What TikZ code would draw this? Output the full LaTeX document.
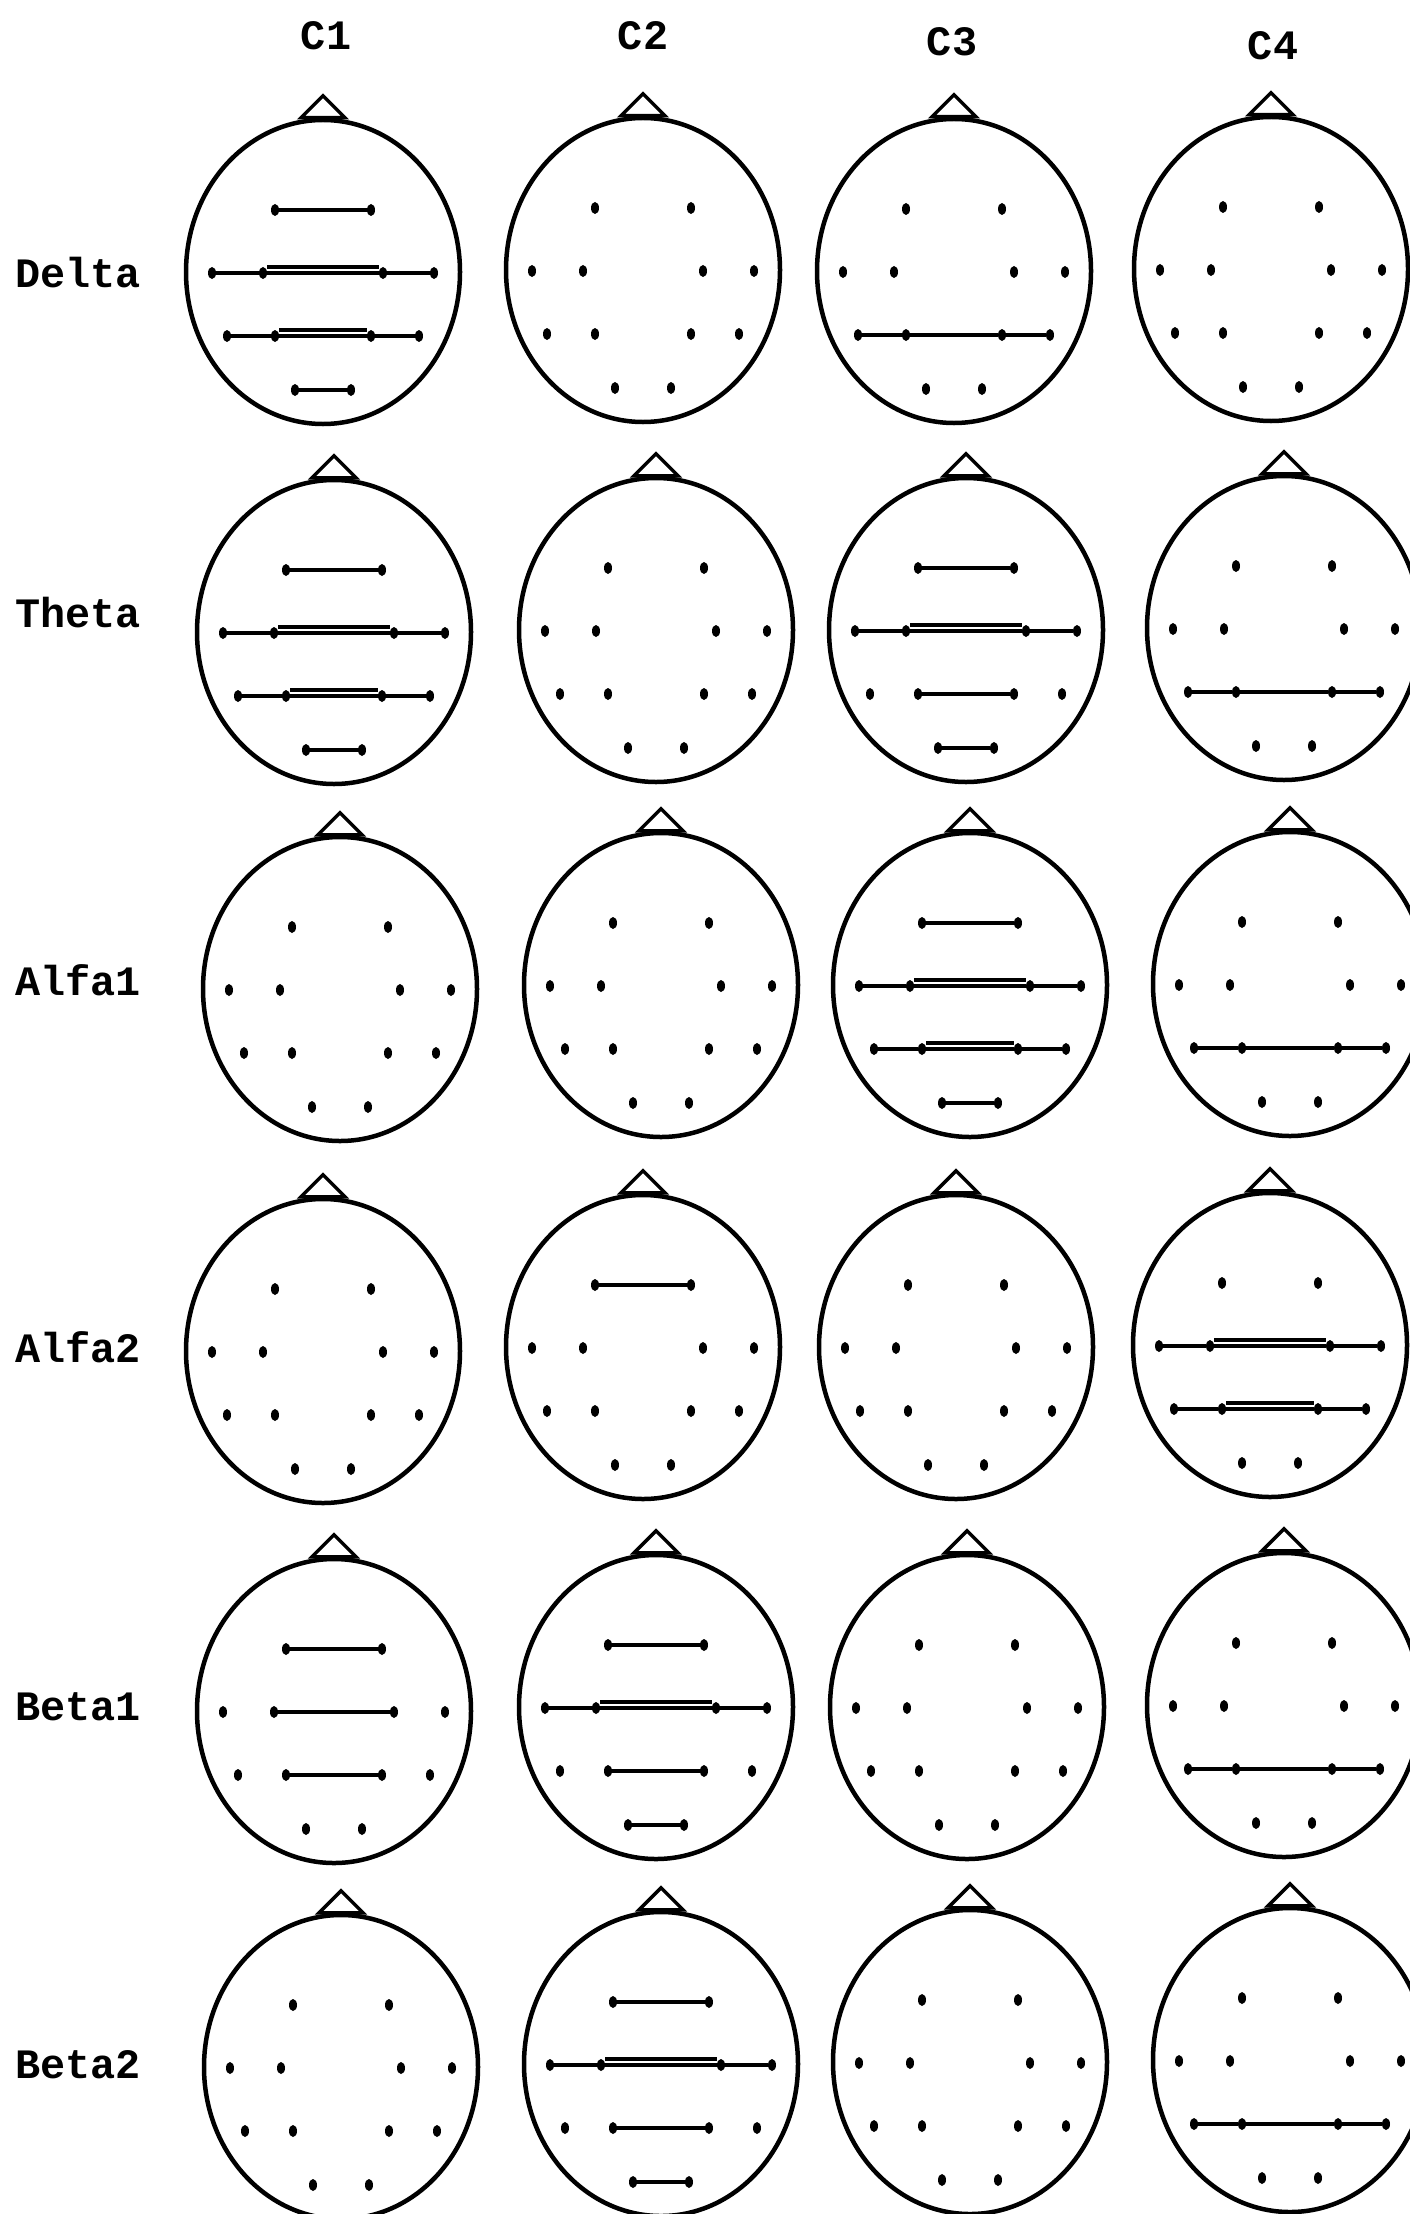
\documentclass[tikz,border=0pt]{standalone}
\usepackage{fontspec}
\newfontfamily\labfont{Liberation Mono}
\usetikzlibrary{shapes.geometric}

% one head: outline, nose and the twelve electrodes
\newcommand{\eeghead}[3]{%
    \node[head] (#1) at (#2,#3) {};
    \draw[nose] ([xshift=-22bp]#1.north) -- ++(22,-22) -- ++(22,22) -- cycle;
    \node[elec] (#1-F3) at ([shift={(-48,-62)}]#1.center) {};
    \node[elec] (#1-F4) at ([shift={(48,-62)}]#1.center) {};
    \node[elec] (#1-T3) at ([shift={(-111,1)}]#1.center) {};
    \node[elec] (#1-C3) at ([shift={(-60,1)}]#1.center) {};
    \node[elec] (#1-C4) at ([shift={(60,1)}]#1.center) {};
    \node[elec] (#1-T4) at ([shift={(111,1)}]#1.center) {};
    \node[elec] (#1-T5) at ([shift={(-96,64)}]#1.center) {};
    \node[elec] (#1-P3) at ([shift={(-48,64)}]#1.center) {};
    \node[elec] (#1-P4) at ([shift={(48,64)}]#1.center) {};
    \node[elec] (#1-T6) at ([shift={(96,64)}]#1.center) {};
    \node[elec] (#1-O1) at ([shift={(-28,118)}]#1.center) {};
    \node[elec] (#1-O2) at ([shift={(28,118)}]#1.center) {};
}

\begin{document}
\begin{tikzpicture}[
    x=1bp, y=-1bp,
    head/.style={ellipse, draw, line width=4.5bp, minimum width=274bp, minimum height=304bp, inner sep=0pt},
    nose/.style={line width=3.5bp, line join=miter},
    elec/.style={ellipse, fill=black, minimum width=8bp, minimum height=12bp, inner sep=0pt},
    link/.style={line width=3.75bp},
    bar/.style={double, line width=3.75bp, double distance=2.5bp, transform canvas={yshift=3bp}},
    lab/.style={font=\labfont\bfseries\fontsize{42}{46}\selectfont, inner sep=0pt}
]
    \path[use as bounding box, fill=white] (0,0) rectangle (1410,2214);

    % column and band labels
    \node[lab] (colC1) at (326,36) {C1};
    \node[lab] (colC2) at (643,36) {C2};
    \node[lab] (colC3) at (952,42) {C3};
    \node[lab] (colC4) at (1273,46) {C4};
    \node[lab, anchor=west] (rowDelta) at (15,273) {Delta};
    \node[lab, anchor=west] (rowTheta) at (15,613) {Theta};
    \node[lab, anchor=west] (rowAlfaI) at (15,980) {Alfa1};
    \node[lab, anchor=west] (rowAlfaII) at (15,1347) {Alfa2};
    \node[lab, anchor=west] (rowBetaI) at (15,1707) {Beta1};
    \node[lab, anchor=west] (rowBetaII) at (15,2065) {Beta2};

    % heads
    \eeghead{delta-1}{323}{272}
    \eeghead{delta-2}{643}{270}
    \eeghead{delta-3}{954}{271}
    \eeghead{delta-4}{1271}{269}
    \eeghead{theta-1}{334}{632}
    \eeghead{theta-2}{656}{630}
    \eeghead{theta-3}{966}{630}
    \eeghead{theta-4}{1284}{628}
    \eeghead{alfa1-1}{340}{989}
    \eeghead{alfa1-2}{661}{985}
    \eeghead{alfa1-3}{970}{985}
    \eeghead{alfa1-4}{1290}{984}
    \eeghead{alfa2-1}{323}{1351}
    \eeghead{alfa2-2}{643}{1347}
    \eeghead{alfa2-3}{956}{1347}
    \eeghead{alfa2-4}{1270}{1345}
    \eeghead{beta1-1}{334}{1711}
    \eeghead{beta1-2}{656}{1707}
    \eeghead{beta1-3}{967}{1707}
    \eeghead{beta1-4}{1284}{1705}
    \eeghead{beta2-1}{341}{2067}
    \eeghead{beta2-2}{661}{2064}
    \eeghead{beta2-3}{970}{2062}
    \eeghead{beta2-4}{1290}{2060}

    % Delta
    \draw[link] (delta-1-F3) -- (delta-1-F4);
    \draw[link] (delta-1-T3) -- (delta-1-C3) (delta-1-C4) -- (delta-1-T4);
    \draw[bar] (delta-1-C3) -- (delta-1-C4);
    \draw[link] (delta-1-T5) -- (delta-1-P3) (delta-1-P4) -- (delta-1-T6);
    \draw[bar] (delta-1-P3) -- (delta-1-P4);
    \draw[link] (delta-1-O1) -- (delta-1-O2);
    \draw[link] (delta-3-T5) -- (delta-3-P3) -- (delta-3-P4) -- (delta-3-T6);

    % Theta
    \draw[link] (theta-1-F3) -- (theta-1-F4);
    \draw[link] (theta-1-T3) -- (theta-1-C3) (theta-1-C4) -- (theta-1-T4);
    \draw[bar] (theta-1-C3) -- (theta-1-C4);
    \draw[link] (theta-1-T5) -- (theta-1-P3) (theta-1-P4) -- (theta-1-T6);
    \draw[bar] (theta-1-P3) -- (theta-1-P4);
    \draw[link] (theta-1-O1) -- (theta-1-O2);
    \draw[link] (theta-3-F3) -- (theta-3-F4);
    \draw[link] (theta-3-T3) -- (theta-3-C3) (theta-3-C4) -- (theta-3-T4);
    \draw[bar] (theta-3-C3) -- (theta-3-C4);
    \draw[link] (theta-3-P3) -- (theta-3-P4);
    \draw[link] (theta-3-O1) -- (theta-3-O2);
    \draw[link] (theta-4-T5) -- (theta-4-P3) -- (theta-4-P4) -- (theta-4-T6);

    % Alfa1
    \draw[link] (alfa1-3-F3) -- (alfa1-3-F4);
    \draw[link] (alfa1-3-T3) -- (alfa1-3-C3) (alfa1-3-C4) -- (alfa1-3-T4);
    \draw[bar] (alfa1-3-C3) -- (alfa1-3-C4);
    \draw[link] (alfa1-3-T5) -- (alfa1-3-P3) (alfa1-3-P4) -- (alfa1-3-T6);
    \draw[bar] (alfa1-3-P3) -- (alfa1-3-P4);
    \draw[link] (alfa1-3-O1) -- (alfa1-3-O2);
    \draw[link] (alfa1-4-T5) -- (alfa1-4-P3) -- (alfa1-4-P4) -- (alfa1-4-T6);

    % Alfa2
    \draw[link] (alfa2-2-F3) -- (alfa2-2-F4);
    \draw[link] (alfa2-4-T3) -- (alfa2-4-C3) (alfa2-4-C4) -- (alfa2-4-T4);
    \draw[bar] (alfa2-4-C3) -- (alfa2-4-C4);
    \draw[link] (alfa2-4-T5) -- (alfa2-4-P3) (alfa2-4-P4) -- (alfa2-4-T6);
    \draw[bar] (alfa2-4-P3) -- (alfa2-4-P4);

    % Beta1
    \draw[link] (beta1-1-F3) -- (beta1-1-F4);
    \draw[link] (beta1-1-C3) -- (beta1-1-C4);
    \draw[link] (beta1-1-P3) -- (beta1-1-P4);
    \draw[link] (beta1-2-F3) -- (beta1-2-F4);
    \draw[link] (beta1-2-T3) -- (beta1-2-C3) (beta1-2-C4) -- (beta1-2-T4);
    \draw[bar] (beta1-2-C3) -- (beta1-2-C4);
    \draw[link] (beta1-2-P3) -- (beta1-2-P4);
    \draw[link] (beta1-2-O1) -- (beta1-2-O2);
    \draw[link] (beta1-4-T5) -- (beta1-4-P3) -- (beta1-4-P4) -- (beta1-4-T6);

    % Beta2
    \draw[link] (beta2-2-F3) -- (beta2-2-F4);
    \draw[link] (beta2-2-T3) -- (beta2-2-C3) (beta2-2-C4) -- (beta2-2-T4);
    \draw[bar] (beta2-2-C3) -- (beta2-2-C4);
    \draw[link] (beta2-2-P3) -- (beta2-2-P4);
    \draw[link] (beta2-2-O1) -- (beta2-2-O2);
    \draw[link] (beta2-4-T5) -- (beta2-4-P3) -- (beta2-4-P4) -- (beta2-4-T6);
\end{tikzpicture}
\end{document}
